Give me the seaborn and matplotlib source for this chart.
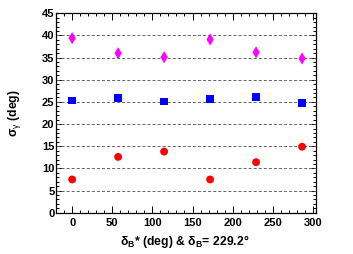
import numpy as np
import pandas as pd
import matplotlib
matplotlib.use("Agg")
import matplotlib.pyplot as plt
import seaborn as sns
from matplotlib.ticker import MultipleLocator

# data
delta_b_star = [0.0, 57.3, 114.6, 171.9, 229.2, 286.5]
sigma_magenta = [39.4, 36.0, 35.1, 39.1, 36.2, 34.8]
sigma_blue = [25.3, 25.9, 25.1, 25.6, 26.1, 24.7]
sigma_red = [7.5, 12.6, 13.8, 7.5, 11.4, 14.9]
x_ticks = [0, 50, 100, 150, 200, 250, 300]
y_ticks = [0, 5, 10, 15, 20, 25, 30, 35, 40, 45]

sns.set_style("ticks")
plt.rcParams['font.family'] = ['Liberation Sans', 'DejaVu Sans']
plt.rcParams['mathtext.fontset'] = 'custom'
plt.rcParams['mathtext.rm'] = 'Liberation Sans'
plt.rcParams['mathtext.bf'] = 'Liberation Sans:bold'
plt.rcParams['mathtext.it'] = 'Liberation Sans:italic'
plt.rcParams['text.color'] = 'black'
plt.rcParams['axes.labelcolor'] = 'black'
plt.rcParams['xtick.color'] = 'black'
plt.rcParams['ytick.color'] = 'black'

fig = plt.figure(figsize=(3.53, 2.54), dpi=100)
ax = fig.add_axes([0.160, 0.1626, 0.7366, 0.785])

df = pd.DataFrame({"x": delta_b_star, "m": sigma_magenta, "b": sigma_blue, "r": sigma_red})
sns.scatterplot(data=df, x="x", y="m", ax=ax, color="#ff00ff", marker="d", s=38,
                edgecolor="none", zorder=3)
sns.scatterplot(data=df, x="x", y="b", ax=ax, color="#0000ff", marker="s", s=30,
                edgecolor="none", zorder=3)
sns.scatterplot(data=df, x="x", y="r", ax=ax, color="#ff0000", marker="o", s=32,
                edgecolor="none", zorder=3)

ax.set_xlim(-19.5, 304.5)
ax.set_ylim(0, 45)
ax.set_xticks(x_ticks)
ax.set_yticks(y_ticks)
ax.xaxis.set_minor_locator(MultipleLocator(10))
ax.yaxis.set_minor_locator(MultipleLocator(1))
for yv in y_ticks[1:-1]:
    ax.axhline(yv, color="#666666", lw=0.7, ls=(0, (3.1, 2.1)), zorder=1)

ax.tick_params(which="both", direction="in", top=True, right=True, width=0.7,
               colors="black")
ax.tick_params(which="major", length=5)
ax.tick_params(which="minor", length=2.5)
ax.tick_params(axis="x", which="major", pad=3.5)
ax.tick_params(axis="y", which="major", pad=1.5)
for lab in ax.get_xticklabels() + ax.get_yticklabels():
    lab.set_fontsize(8)
    lab.set_fontweight("bold")
    lab.set_color("black")
for sp in ax.spines.values():
    sp.set_linewidth(0.9)
    sp.set_color("black")

ax.set_xlabel(r"δ$_\mathbf{B}$* (deg) & δ$_\mathbf{B}$= 229.2°", fontsize=8.8,
              fontweight="bold", va="top", color="black")
ax.xaxis.set_label_coords(0.495, -0.1)
ax.set_ylabel(r"σ$_\mathrm{γ}$ (deg)", fontsize=8.8, fontweight="bold", color="black")
ax.yaxis.set_label_coords(-0.13, 0.5)

fig.savefig("out.png", dpi=100)
